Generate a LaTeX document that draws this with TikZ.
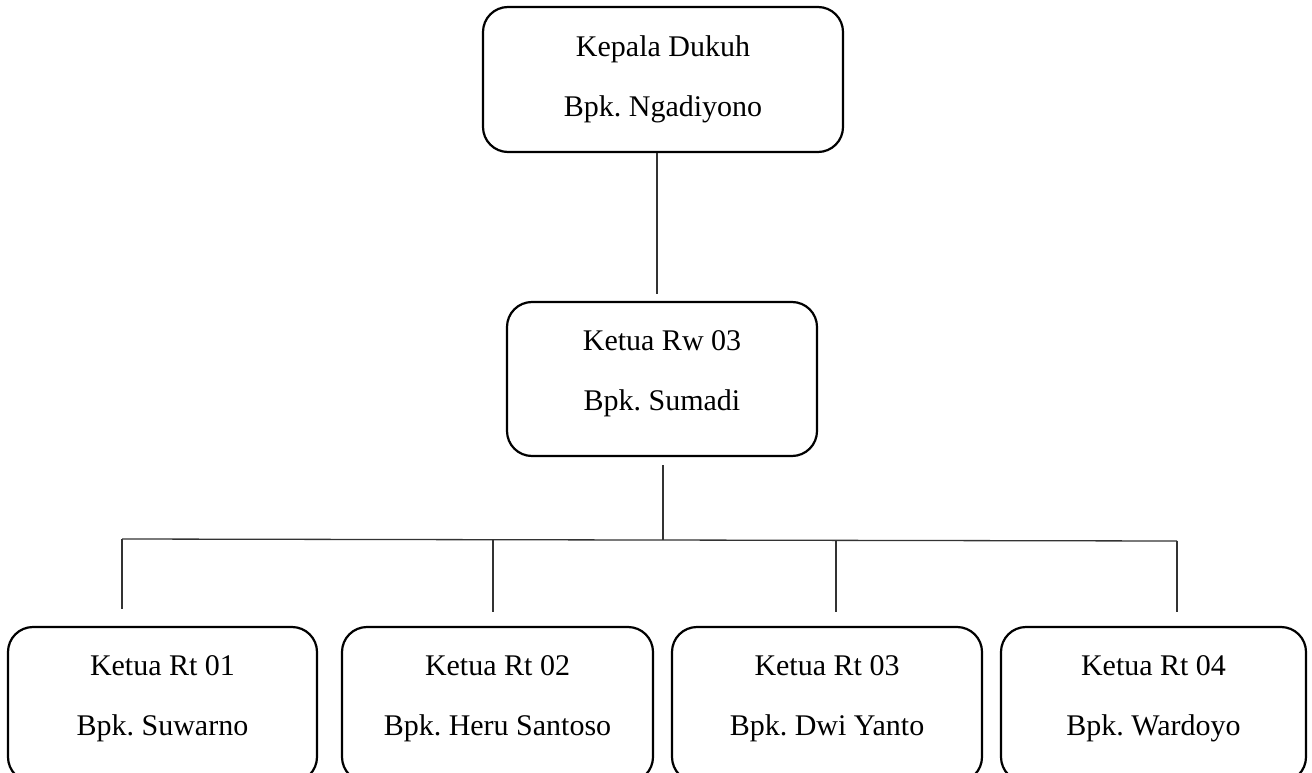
\documentclass[tikz,border=0pt]{standalone}
\usepackage{fontspec}
\setmainfont{Liberation Serif}
\frenchspacing
\begin{document}
\begin{tikzpicture}[x=1pt,y=-1pt,
  box/.style={draw=black, line width=2.2pt, rounded corners=25pt, inner sep=0pt},
  lbl/.style={align=center, inner sep=0pt, font=\fontsize{30}{60}\selectfont},
  conn/.style={draw=black!80, line width=1.3pt}]
\useasboundingbox (0,0) rectangle (1312,773);
\clip (0,0) rectangle (1312,773);
% boxes
\node[box, minimum width=360pt, minimum height=145pt] (kd) at (663,79.5) {};
\node[lbl] (kdt) at ([yshift=-73pt]kd.north) {Kepala Dukuh\\Bpk. Ngadiyono};
\node[box, minimum width=310pt, minimum height=154pt] (rw) at (662,379) {};
\node[lbl] (rwt) at ([yshift=-73pt]rw.north) {Ketua Rw 03\\Bpk. Sumadi};
\node[box, minimum width=309pt, minimum height=155pt] (rt1) at (162.5,704.5) {};
\node[lbl] (rt1t) at ([yshift=-73pt]rt1.north) {Ketua Rt 01\\Bpk. Suwarno};
\node[box, minimum width=311pt, minimum height=155pt] (rt2) at (497.5,704.5) {};
\node[lbl] (rt2t) at ([yshift=-73pt]rt2.north) {Ketua Rt 02\\Bpk. Heru Santoso};
\node[box, minimum width=310pt, minimum height=155pt] (rt3) at (827,704.5) {};
\node[lbl] (rt3t) at ([yshift=-73pt]rt3.north) {Ketua Rt 03\\Bpk. Dwi Yanto};
\node[box, minimum width=305pt, minimum height=155pt] (rt4) at (1153.5,704.5) {};
\node[lbl] (rt4t) at ([yshift=-73pt]rt4.north) {Ketua Rt 04\\Bpk. Wardoyo};
% connector points
\coordinate (c1) at (657,294);
\coordinate (c2a) at (663,465);
\coordinate (c2b) at (663,540);
\coordinate (hl) at (122,539);
\coordinate (hr) at (1177,541);
\coordinate (h2) at (493,540);
\coordinate (h3) at (836,540);
\coordinate (d1) at (122,609);
\coordinate (d2) at (493,612);
\coordinate (d3) at (836,612);
\coordinate (d4) at (1177,612);
% connectors
\draw[conn] (kd.south -| c1) -- (c1);
\draw[conn] (c2a) -- (c2b);
\draw[conn] (hl) -- (hr);
\draw[conn] (hl) -- (d1);
\draw[conn] (h2) -- (d2);
\draw[conn] (h3) -- (d3);
\draw[conn] (hr) -- (d4);
\end{tikzpicture}
\end{document}
